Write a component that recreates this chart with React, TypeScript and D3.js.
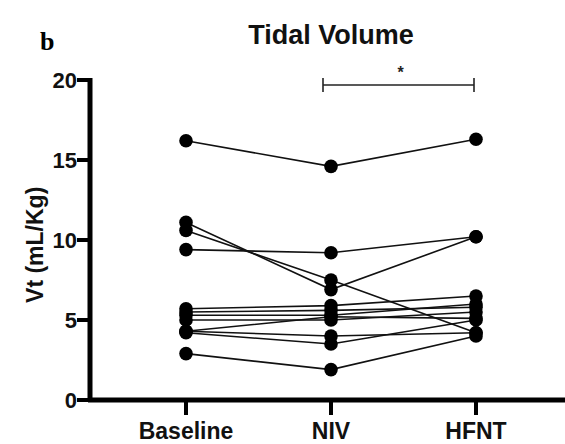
import React from "react";
import * as d3 from "d3";

const categories = ["Baseline", "NIV", "HFNT"];
const yTicks = [0, 5, 10, 15, 20];
const subjects: number[][] = [
  [16.2, 14.6, 16.3],
  [11.1, 6.9, 10.2],
  [10.6, 7.5, 4.2],
  [9.4, 9.2, 10.2],
  [5.7, 5.9, 6.5],
  [5.5, 5.6, 5.8],
  [5.3, 5.3, 6.0],
  [5.0, 5.0, 5.5],
  [4.3, 5.2, 5.1],
  [4.3, 4.0, 4.2],
  [4.2, 3.5, 5.0],
  [2.9, 1.9, 4.0],
];
const sigPair = ["NIV", "HFNT"];

export default function App() {
  const W = 565, H = 444;
  const axisX = 90;
  const axisY = 400;
  const y = d3.scaleLinear().domain([0, 20]).range([400, 80]);
  const x = d3.scalePoint<string>().domain(categories).range([186, 476]);
  const line = d3.line<number>().x((_, i) => x(categories[i])!).y((d) => y(d));
  const font = "'Liberation Sans', Arial, sans-serif";
  const bx1 = x(sigPair[0])! - 8, bx2 = x(sigPair[1])! - 2;
  const by = 85;
  return (
    <svg width={W} height={H} style={{ position: "absolute", left: 0, top: 0, background: "#fff" }}>
      <text x={40} y={50} fontFamily="'Liberation Serif', 'Times New Roman', serif" fontWeight="bold" fontSize={26}>b</text>
      <text x={331} y={44} textAnchor="middle" fontFamily={font} fontWeight="bold" fontSize={27} fill="#111">Tidal Volume</text>
      <text transform={`translate(43,${y(9.7)}) rotate(-90)`} textAnchor="middle" fontFamily={font} fontWeight="bold" fontSize={23} fill="#111">Vt (mL/Kg)</text>
      {/* axes */}
      <line x1={axisX} x2={axisX} y1={y(20) - 2} y2={axisY + 2} stroke="#000" strokeWidth={5} />
      <line x1={axisX - 2} x2={W} y1={axisY} y2={axisY} stroke="#000" strokeWidth={5} />
      {yTicks.map((t) => (
        <g key={t}>
          <line x1={axisX - 13} x2={axisX} y1={y(t)} y2={y(t)} stroke="#000" strokeWidth={4} />
          <text x={axisX - 13} y={y(t) + 8} textAnchor="end" fontFamily={font} fontWeight="bold" fontSize={22} fill="#111">{t}</text>
        </g>
      ))}
      {categories.map((c) => (
        <g key={c}>
          <line x1={x(c)!} x2={x(c)!} y1={axisY} y2={axisY + 15} stroke="#000" strokeWidth={4} />
          <text x={x(c)!} y={439} textAnchor="middle" fontFamily={font} fontWeight="bold" fontSize={23} fill="#111">{c}</text>
        </g>
      ))}
      {/* significance bracket */}
      <line x1={bx1} x2={bx2} y1={by} y2={by} stroke="#222" strokeWidth={1.6} />
      <line x1={bx1} x2={bx1} y1={by - 7} y2={by + 7} stroke="#222" strokeWidth={1.6} />
      <line x1={bx2} x2={bx2} y1={by - 7} y2={by + 7} stroke="#222" strokeWidth={1.6} />
      <text x={(bx1 + bx2) / 2 + 2} y={78} textAnchor="middle" fontFamily={font} fontWeight="bold" fontSize={16} fill="#222">*</text>
      {subjects.map((s, i) => (
        <path key={"l" + i} d={line(s)!} fill="none" stroke="#111" strokeWidth={1.6} />
      ))}
      {subjects.map((s, i) =>
        s.map((v, j) => (
          <circle key={`c${i}-${j}`} cx={x(categories[j])!} cy={y(v)} r={6.8} fill="#000" />
        ))
      )}
    </svg>
  );
}
